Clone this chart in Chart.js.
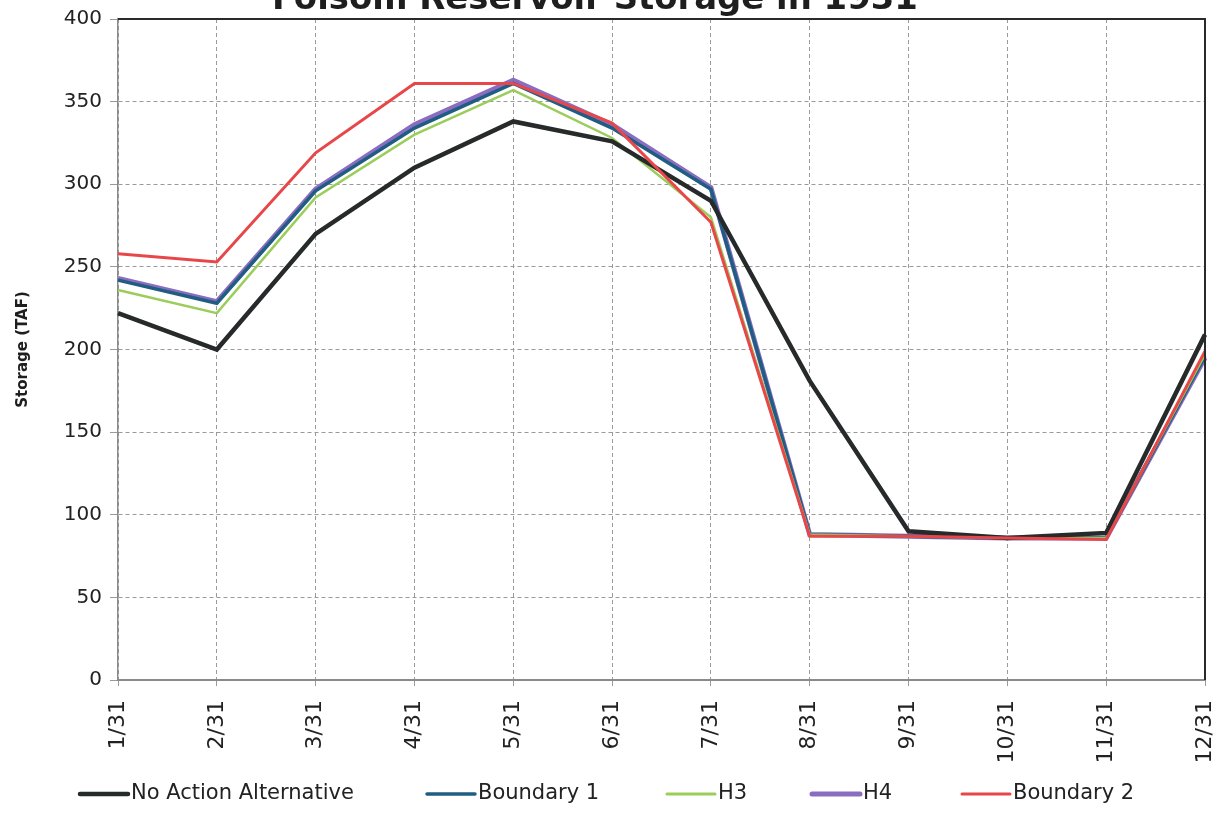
<!DOCTYPE html>
<html>
<head>
<meta charset="utf-8">
<script src="https://cdn.jsdelivr.net/npm/chart.js@4.4.1/dist/chart.umd.min.js"></script>
<style>
  html, body { margin: 0; padding: 0; background: #ffffff; }
  #wrap { width: 1223px; height: 815px; position: relative; }
</style>
</head>
<body>
<div id="wrap"><canvas id="c" width="1223" height="815"></canvas></div>
<script>
const chartTitle = 'Folsom Reservoir Storage in 1931';
const yAxisTitle = 'Storage (TAF)';
const categories = ['1/31', '2/31', '3/31', '4/31', '5/31', '6/31', '7/31', '8/31', '9/31', '10/31', '11/31', '12/31'];
const yTicks = [0, 50, 100, 150, 200, 250, 300, 350, 400];
const seriesNames = ['No Action Alternative', 'Boundary 1', 'H3', 'H4', 'Boundary 2'];
const noAction  = [222, 200, 270, 310, 338, 326, 290, 181, 90, 86, 89, 209];
const boundary1 = [242, 228, 296, 334, 361, 334, 297, 88, 87, 86, 86, 196];
const h3        = [236, 222, 292, 330, 357, 328, 280, 88, 87, 86, 86, 197];
const h4        = [243, 229, 297, 336, 363, 336, 298, 88, 87, 86, 86, 195];
const boundary2 = [258, 253, 319, 361, 361, 337, 277, 87, 87, 86, 85, 199];

const colors = ['#262a2a', '#1f5d82', '#9acd5a', '#8a6cc0', '#e8474a'];
const widths = [4.5, 3.5, 2.5, 5, 3];
const drawOrder = [1, 3, 2, 4, 0];
const seriesData = [noAction, boundary1, h3, h4, boundary2];

const FONT = '"DejaVu Sans", "Liberation Sans", sans-serif';

const decorPlugin = {
  id: 'decor',
  afterDraw(chart) {
    const ctx = chart.ctx;
    const a = chart.chartArea;
    ctx.save();
    // plot frame (top and right)
    ctx.strokeStyle = '#2a2a2a';
    ctx.lineWidth = 2;
    ctx.setLineDash([]);
    ctx.beginPath();
    ctx.moveTo(a.left, a.top);
    ctx.lineTo(a.right, a.top);
    ctx.lineTo(a.right, a.bottom);
    ctx.stroke();
    // title (cut off at top as in reference)
    let fs = 30;
    ctx.font = 'bold ' + fs + 'px ' + FONT;
    const w = ctx.measureText(chartTitle).width;
    fs = fs * 646 / w;
    ctx.font = 'bold ' + fs + 'px ' + FONT;
    ctx.fillStyle = '#1e1e1e';
    ctx.textAlign = 'center';
    ctx.textBaseline = 'alphabetic';
    ctx.fillText(chartTitle, 595, 9);
    // legend
    const starts = [78, 425, 665, 810, 960];
    const ly = 794;
    ctx.font = '21px ' + FONT;
    ctx.textAlign = 'left';
    ctx.textBaseline = 'middle';
    seriesNames.forEach((name, i) => {
      ctx.strokeStyle = colors[i];
      ctx.lineWidth = Math.max(3, widths[i]);
      ctx.lineCap = 'round';
      ctx.beginPath();
      ctx.moveTo(starts[i] + 2, ly);
      ctx.lineTo(starts[i] + 50, ly);
      ctx.stroke();
      ctx.fillStyle = '#222222';
      ctx.fillText(name, starts[i] + 53, ly);
    });
    ctx.restore();
  }
};

new Chart(document.getElementById('c'), {
  type: 'line',
  data: {
    labels: categories,
    datasets: seriesNames.map((name, i) => ({
      label: name,
      data: seriesData[i],
      borderColor: colors[i],
      backgroundColor: colors[i],
      borderWidth: widths[i],
      pointRadius: 0,
      tension: 0,
      fill: false,
      order: drawOrder[i]
    }))
  },
  options: {
    responsive: false,
    animation: false,
    layout: { padding: { top: 19, right: 18, left: 0, bottom: 35 } },
    plugins: {
      legend: { display: false },
      title: { display: false },
      tooltip: { enabled: false }
    },
    scales: {
      x: {
        type: 'category',
        offset: false,
        grid: { color: '#9a9a9a', lineWidth: 1, tickLength: 6, drawTicks: true },
        border: { display: true, color: '#8a8a8a', width: 2, dash: [4, 3] },
        ticks: {
          minRotation: 90, maxRotation: 90, autoSkip: false,
          color: '#222222', padding: 14,
          font: { family: FONT, size: 22 }
        },
        afterFit(scale) {
          scale.height = 100;
          scale.paddingLeft = 0;
          scale.paddingRight = 0;
        }
      },
      y: {
        min: 0, max: 400,
        afterBuildTicks(scale) { scale.ticks = yTicks.map(v => ({ value: v })); },
        grid: { color: '#9a9a9a', lineWidth: 1, tickLength: 8 },
        border: { display: true, color: '#8a8a8a', width: 1.5, dash: [4, 3] },
        ticks: { color: '#222222', padding: 8, font: { family: FONT, size: 20 } },
        title: {
          display: true, text: yAxisTitle, color: '#1e1e1e',
          font: { family: FONT, size: 15, weight: 'bold' },
          padding: { top: 14, bottom: 0 }
        },
        afterFit(scale) {
          scale.width = 118;
          scale.paddingTop = 0;
          scale.paddingBottom = 0;
        }
      }
    }
  },
  plugins: [decorPlugin]
});
</script>
</body>
</html>
